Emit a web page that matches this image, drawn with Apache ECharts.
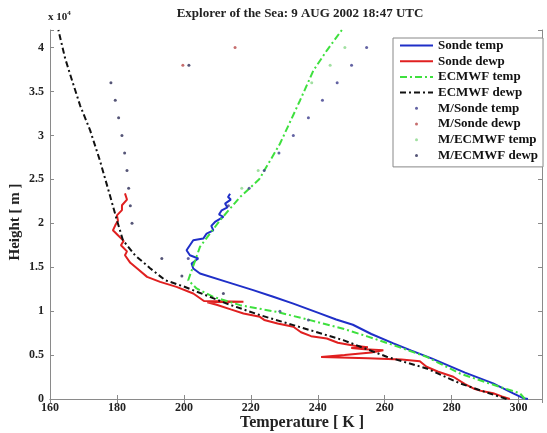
<!DOCTYPE html>
<html>
<head>
<meta charset="utf-8">
<script src="https://cdn.jsdelivr.net/npm/echarts@6/dist/echarts.min.js"></script>
<style>html,body{margin:0;padding:0;background:#fff}#c{width:547px;height:433px}</style>
</head>
<body>
<div id="c"></div>
<script>
// ---- data (Temperature K, Height m) ----
const xTicks = [160, 180, 200, 220, 240, 260, 280, 300];
const yTickLabels = ['0', '0.5', '1', '1.5', '2', '2.5', '3', '3.5', '4'];

const sondeTemp = [[302.8,0],[301.4,100],[298.4,650],[292.4,1780],[284,3000],[274,4620],[268,5500],[262.6,6330],[256,7400],[250.5,8450],[245.5,9050],[240.2,9800],[232.7,10860],[226.7,11630],[220.7,12390],[212.8,13330],[204.8,14280],[202.8,14850],[202.3,15420],[204.3,15990],[201.8,16360],[200.8,16930],[201.8,17500],[202.8,18070],[205.8,18260],[206.8,18830],[208.8,19200],[208.2,19700],[209.3,20150],[211.8,20720],[210.5,21000],[211.3,21480],[213,21800],[212.3,22240],[214,22700],[213.2,23000],[213.8,23370]];

const sondeDewp = [[297.4,0],[295,300],[292.4,650],[289,900],[286.5,1200],[284,1700],[280.5,2530],[276,3100],[272.5,3670],[270.5,4300],[265,4500],[255,4650],[241,4780],[248,5000],[256,5300],[259.6,5550],[254,5650],[250,5800],[255,5900],[251,6050],[246,6400],[242.7,6890],[238,7150],[235,7600],[232.7,8220],[228,8600],[224,9000],[222.7,9350],[217.8,9740],[214,10200],[210,10700],[207,11000],[217.8,11060],[206,11150],[202.8,12010],[197.8,12760],[192.9,13330],[189,13900],[186.5,14700],[184,15500],[182.4,16360],[183,16800],[181.2,17500],[182,18000],[180.3,18640],[178.8,19200],[179.5,19770],[180.3,20300],[180,20900],[181.5,21500],[181.5,22050],[183,22700],[182.4,23400]];

const ecmwfTemp = [[301.9,0],[300.4,650],[291,1800],[282.5,2900],[272.5,4800],[262.6,6140],[255,7100],[247.6,8000],[237.7,8980],[227.7,9920],[216.8,10680],[208.8,11630],[203.8,12580],[201.3,13520],[204.8,17310],[210.8,20340],[216.8,22990],[222.5,25000],[228.7,29050],[234.7,33980],[238.7,37390],[242.7,39660],[247.2,42000]];

const ecmwfDewp = [[296.4,0],[290,800],[282.5,1780],[272.5,3480],[260.6,4810],[247.6,6700],[232.7,8410],[222.7,9550],[212.8,10860],[200,12800],[194.4,13520],[189.9,14890],[185.4,16360],[181.8,18070],[180,20340],[177.9,23180],[174.9,27160],[172,30570],[169,33400],[166.6,36250],[164.5,38800],[162.5,42000]];

const mSondeTemp = [[254.6,40000],[250.1,38000],[245.8,36000],[241.4,34000],[237.2,32000],[232.7,30000],[228.4,28000],[224,26000],[219.5,24000],[213.3,22000],[201.3,16000],[228.7,10000],[237.2,9000]];
const mSondeDewp = [[215.3,40000],[199.7,38000]];
const mEcmwfTemp = [[248.1,40000],[243.7,38000],[238.2,36000],[222.2,26000],[217.3,24000]];
const mEcmwfDewp = [[201.5,38000],[178.2,36000],[179.5,34000],[180.5,32000],[181.5,30000],[182.3,28000],[183,26000],[183.5,24000],[184,22000],[184.5,20000],[193.4,16000],[199.4,14000],[211.8,12000]];

const lineNames = ['Sonde temp', 'Sonde dewp', 'ECMWF temp', 'ECMWF dewp'];
const dotNames = ['M/Sonde temp', 'M/Sonde dewp', 'M/ECMWF temp', 'M/ECMWF dewp'];

const FONT = 'Liberation Serif';
const chart = echarts.init(document.getElementById('c'));

const axisCommon = {
  axisLine: {show: true, lineStyle: {color: '#8a8a8a', width: 1}},
  axisTick: {show: true, inside: true, length: 4, lineStyle: {color: '#8a8a8a'}},
  splitLine: {show: false}
};

chart.setOption({
  animation: false,
  backgroundColor: '#fff',
  grid: {left: 50, right: 5, top: 30, bottom: 34, containLabel: false},
  xAxis: [
    Object.assign({type: 'value', min: 160, max: 307, interval: 20, position: 'bottom',
      axisLabel: {show: true, margin: 3, color: '#222', fontFamily: FONT, fontWeight: 'bold', fontSize: 12,
        formatter: v => xTicks.indexOf(v) >= 0 ? String(v) : ''}}, axisCommon),
    Object.assign({type: 'value', min: 160, max: 307, interval: 20, position: 'top',
      axisLabel: {show: false}}, axisCommon)
  ],
  yAxis: [
    Object.assign({type: 'value', min: 0, max: 42000, interval: 5000, position: 'left',
      axisLabel: {show: true, margin: 6, color: '#222', fontFamily: FONT, fontWeight: 'bold', fontSize: 12,
        formatter: v => (v % 5000 === 0 && v / 5000 < yTickLabels.length) ? yTickLabels[v / 5000] : ''}}, axisCommon),
    Object.assign({type: 'value', min: 0, max: 42000, interval: 5000, position: 'right',
      axisLabel: {show: false}}, axisCommon)
  ],
  legend: {
    orient: 'vertical', left: 393, top: 38,
    backgroundColor: '#fff', borderColor: '#888', borderWidth: 1,
    padding: [1, 5, 5, 6],
    itemWidth: 33, itemHeight: 3, itemGap: 2.7,
    textStyle: {fontFamily: FONT, fontWeight: 'bold', fontSize: 13, color: '#111', lineHeight: 12},
    data: lineNames.map(n => ({name: n, itemStyle: {opacity: 0}})).concat(dotNames.map(n => ({name: n})))
  },
  graphic: [
    {type: 'text', x: 300, y: 14, style: {text: 'Explorer of the Sea: 9 AUG 2002 18:47 UTC', font: 'bold 13px "Liberation Serif"', fill: '#222', align: 'center', verticalAlign: 'middle'}},
    {type: 'text', x: 48, y: 10, style: {text: '{a|x 10}{b|4}', rich: {a: {font: 'bold 11px "Liberation Serif"', fill: '#222', verticalAlign: 'bottom'}, b: {font: 'bold 7px "Liberation Serif"', fill: '#222', verticalAlign: 'top', padding: [0,0,6,0]}}}},
    {type: 'text', x: 302, y: 423, style: {text: 'Temperature [ K ]', font: 'bold 16px "Liberation Serif"', fill: '#222', align: 'center', verticalAlign: 'middle'}},
    {type: 'text', x: 15, y: 222, rotation: Math.PI / 2, style: {text: 'Height [ m ]', font: 'bold 15px "Liberation Serif"', fill: '#222', align: 'center', verticalAlign: 'middle'}}
  ],
  series: [
    {name: 'Sonde temp', type: 'line', data: sondeTemp, symbol: 'none', color: '#1f2fc8', lineStyle: {color: '#1f2fc8', width: 2}, z: 3},
    {name: 'Sonde dewp', type: 'line', data: sondeDewp, symbol: 'none', color: '#e02020', lineStyle: {color: '#e02020', width: 2}, z: 3},
    {name: 'ECMWF temp', type: 'line', data: ecmwfTemp, symbol: 'none', color: '#3ee03e', lineStyle: {color: '#3ee03e', width: 2, type: [7, 3, 2, 3]}, z: 4},
    {name: 'ECMWF dewp', type: 'line', data: ecmwfDewp, symbol: 'none', color: '#111', lineStyle: {color: '#111', width: 2, type: [6, 3, 2, 3]}, z: 4},
    {name: 'M/Sonde temp', type: 'scatter', data: mSondeTemp, symbol: 'circle', symbolSize: 3, itemStyle: {color: '#3c3c8c'}, z: 5},
    {name: 'M/Sonde dewp', type: 'scatter', data: mSondeDewp, symbol: 'circle', symbolSize: 3, itemStyle: {color: '#b84a4a'}, z: 5},
    {name: 'M/ECMWF temp', type: 'scatter', data: mEcmwfTemp, symbol: 'circle', symbolSize: 3, itemStyle: {color: '#8ad88a'}, z: 5},
    {name: 'M/ECMWF dewp', type: 'scatter', data: mEcmwfDewp, symbol: 'circle', symbolSize: 3, itemStyle: {color: '#2a2a55'}, z: 5}
  ]
});
</script>
</body>
</html>
